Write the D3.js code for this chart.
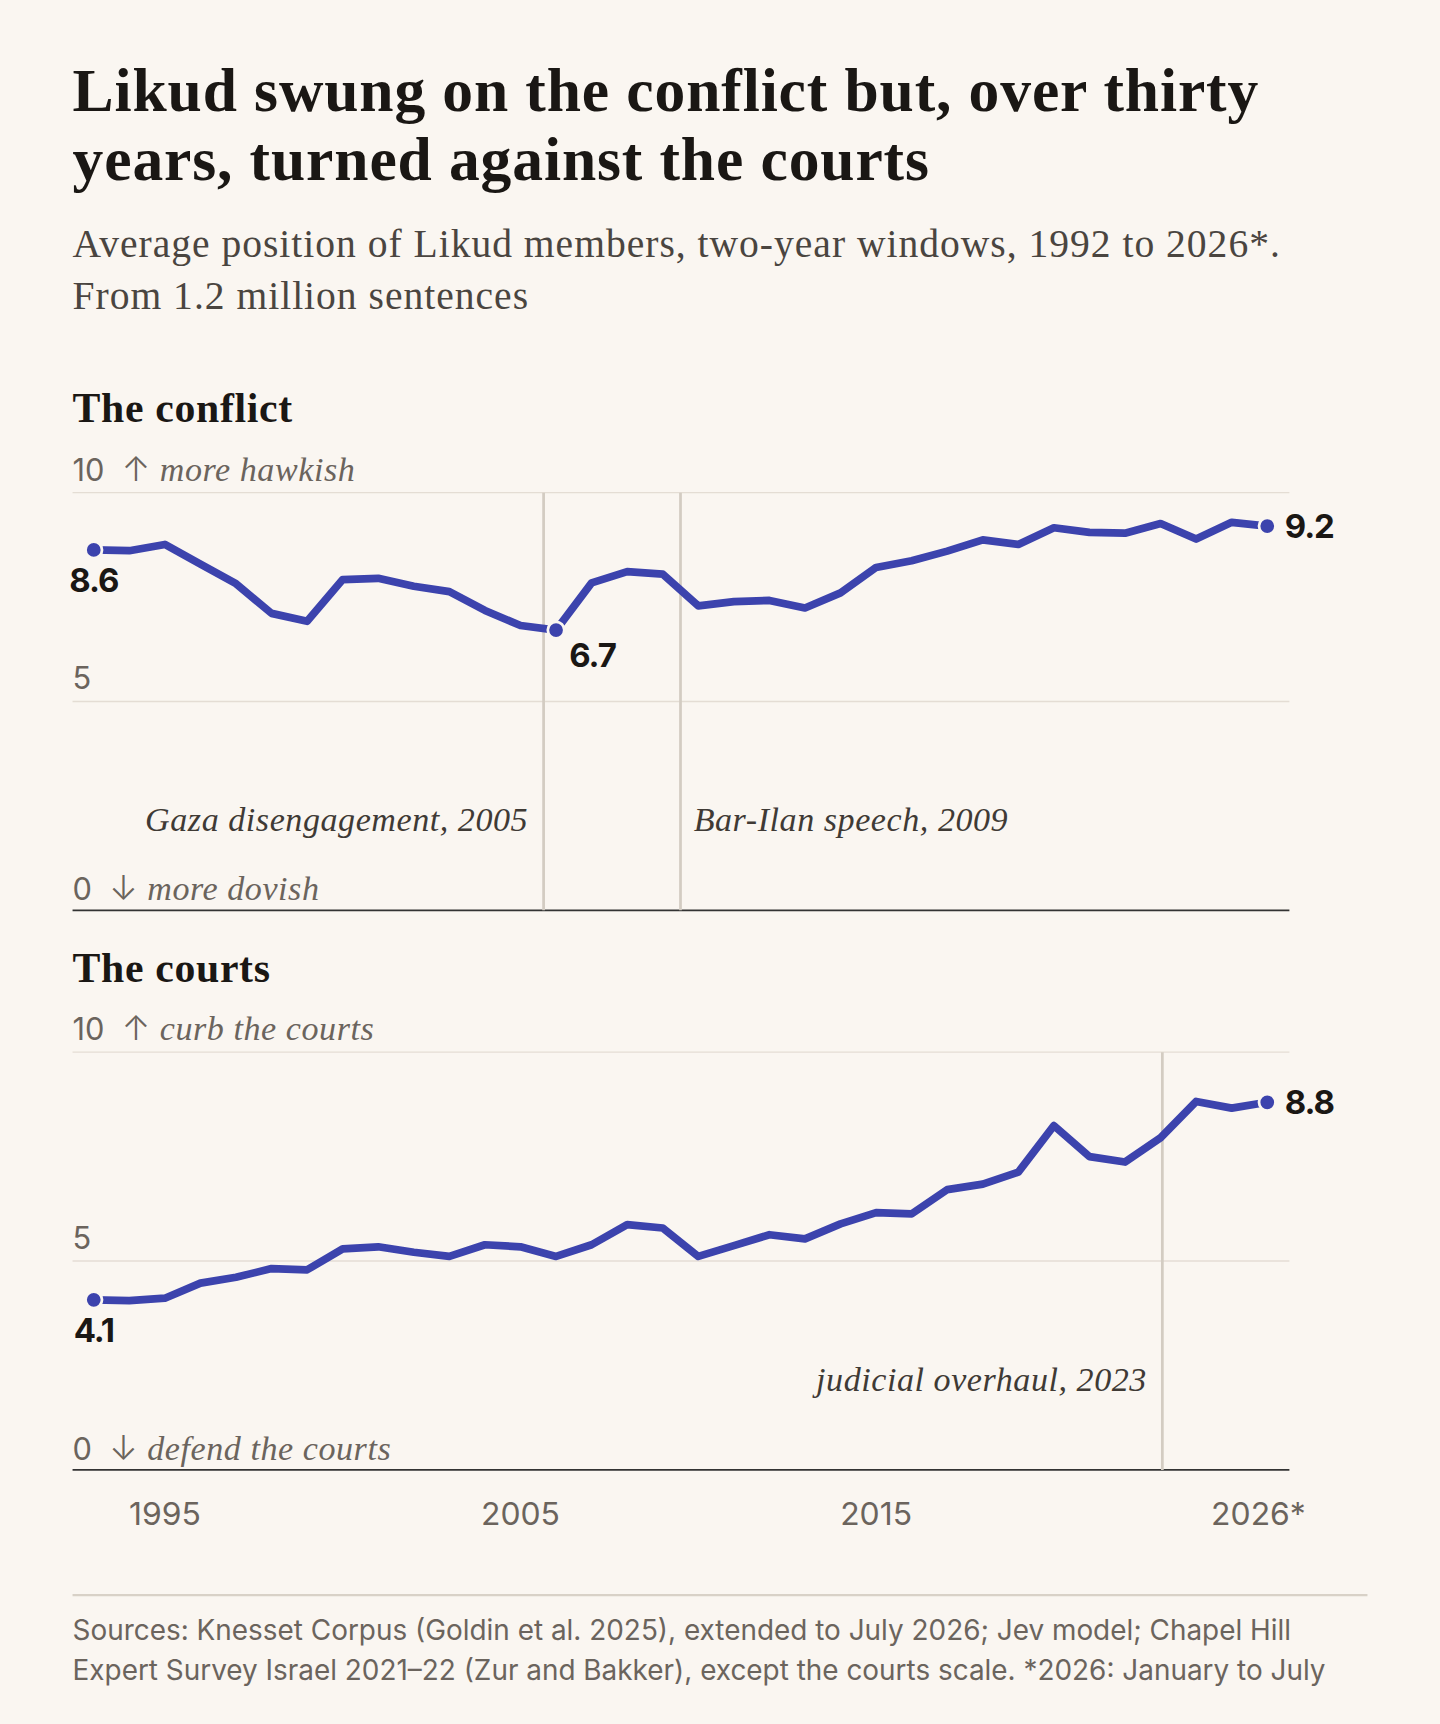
<!DOCTYPE html>
<html><head><meta charset="utf-8">
<script src="https://cdn.jsdelivr.net/npm/d3@7"></script>
<style>body{margin:0;background:#faf6f1}svg{display:block}</style>
</head><body><svg id="c"></svg>
<script>
const years = d3.range(1993, 2027);
const conflict = [8.63,8.61,8.76,8.29,7.82,7.11,6.92,7.92,7.95,7.76,7.63,7.18,6.82,6.71,7.84,8.11,8.05,7.29,7.39,7.42,7.24,7.6,8.21,8.37,8.6,8.87,8.76,9.16,9.05,9.03,9.26,8.89,9.29,9.2];
const courts = [4.07,4.05,4.11,4.47,4.61,4.82,4.79,5.29,5.34,5.21,5.11,5.39,5.34,5.11,5.39,5.87,5.79,5.11,5.37,5.63,5.53,5.89,6.16,6.13,6.71,6.84,7.13,8.24,7.5,7.37,7.95,8.82,8.66,8.8];
const xTicks = [1995, 2005, 2015, 2026];
const xTickLabels = ["1995","2005","2015","2026*"];
const yTicks = [0,5,10];

const W=1310,H=1568;
const svg=d3.select("#c").attr("width",1440).attr("height",1724).attr("viewBox",`0 0 ${W} ${H}`);
svg.append("rect").attr("width",W).attr("height",H).attr("fill","#faf6f1");
const serif="'Liberation Serif','DejaVu Serif',serif", sans="Inter,'Open Sans',sans-serif";
const ink="#1a1714", grey="#6b645d", blue="#3c43ad";

const t=svg.append("text").attr("font-family",serif).attr("font-weight",700).attr("font-size",56).attr("letter-spacing",0.8).attr("fill",ink);
t.append("tspan").attr("x",66).attr("y",101).text("Likud swung on the conflict but, over thirty");
t.append("tspan").attr("x",66).attr("y",164).text("years, turned against the courts");
const s=svg.append("text").attr("font-family",serif).attr("font-size",36).attr("letter-spacing",0.9).attr("fill","#4a4540");
s.append("tspan").attr("x",66).attr("y",234).text("Average position of Likud members, two-year windows, 1992 to 2026*.");
s.append("tspan").attr("x",66).attr("y",281).text("From 1.2 million sentences");

const x=d3.scaleLinear().domain([1995,2015]).range([150,797]);

function panel(top,title,data,upLab,downLab,events,firstLab,lastLab,minIdx){
  const y=d3.scaleLinear().domain([0,10]).range([top+380,top]);
  const g=svg.append("g");
  g.append("text").attr("x",66).attr("y",top-64).attr("font-family",serif).attr("font-weight",700).attr("font-size",38).attr("letter-spacing",0.6).attr("fill",ink).text(title);
  yTicks.forEach(v=>{
    g.append("line").attr("x1",66).attr("x2",1173).attr("y1",y(v)).attr("y2",y(v)).attr("stroke",v===0?"#333":"#e4ddd4").attr("stroke-width",v===0?1.5:1.2);
  });
  events.forEach(e=>{
    g.append("line").attr("x1",x(e.yr)).attr("x2",x(e.yr)).attr("y1",y(10)).attr("y2",y(0)).attr("stroke","#d3ccc2").attr("stroke-width",2.5);
    g.append("text").attr("x",x(e.yr)+(e.anchor==="end"?-14:12)).attr("y",y(0)-72).attr("text-anchor",e.anchor).attr("font-family",serif).attr("font-style","italic").attr("font-size",31).attr("letter-spacing",0.5).attr("fill","#3f3a35").text(e.label);
  });
  const lab=(v,txt,dy)=>{const tt=g.append("text").attr("x",66).attr("y",y(v)+dy).attr("font-family",serif).attr("font-size",31).attr("fill",grey);
    tt.append("tspan").attr("font-family",sans).attr("font-size",28).text(v+"\u00a0\u00a0"); if(txt){tt.append("tspan").attr("font-family",sans).attr("font-weight",300).text(txt[0]+"\u00a0");tt.append("tspan").attr("font-style","italic").attr("letter-spacing",0.5).text(txt.slice(2));}};
  lab(10,"↑ "+upLab,-11); lab(5,null,-11); lab(0,"↓ "+downLab,-9);
  const pts=data.map((v,i)=>[years[i],v]);
  g.append("path").datum(pts).attr("fill","none").attr("stroke",blue).attr("stroke-width",7).attr("stroke-linejoin","round")
    .attr("d",d3.line().x(d=>x(d[0])).y(d=>y(d[1])));
  const dots=[[0,firstLab],[data.length-1,lastLab]]; if(minIdx!=null)dots.push([minIdx,[12,34,"start"]]);
  dots.forEach(([i,o])=>{
    g.append("circle").attr("cx",x(years[i])).attr("cy",y(data[i])).attr("r",7.5).attr("fill",blue).attr("stroke","#faf6f1").attr("stroke-width",2.5);
    g.append("text").attr("x",x(years[i])+o[0]).attr("y",y(data[i])+o[1]).attr("text-anchor",o[2]).attr("font-family",sans).attr("font-weight",700).attr("font-size",30).attr("letter-spacing",-1).attr("fill",ink).text(data[i].toFixed(1));
  });
  return y;
}
panel(448,"The conflict",conflict,"more hawkish","more dovish",
 [{yr:2005.65,label:"Gaza disengagement, 2005",anchor:"end"},{yr:2009.5,label:"Bar-Ilan speech, 2009",anchor:"start"}],[0,38,"middle"],[16,11,"start"],13);
panel(957,"The courts",courts,"curb the courts","defend the courts",
 [{yr:2023.05,label:"judicial overhaul, 2023",anchor:"end"}],[0,38,"middle"],[16,11,"start"],null);

svg.append("g").selectAll("text").data(xTicks).join("text")
 .attr("x",(d,i)=>x(d)+(i===3?-8:0)).attr("y",1387).attr("text-anchor","middle").attr("font-family",sans).attr("font-size",29).attr("fill",grey)
 .text((d,i)=>xTickLabels[i]);

svg.append("line").attr("x1",66).attr("x2",1244).attr("y1",1451).attr("y2",1451).attr("stroke","#d8d1c7").attr("stroke-width",2);
const f=svg.append("text").attr("font-family",sans).attr("font-size",25.4).attr("fill",grey);
f.append("tspan").attr("x",66).attr("y",1492).text("Sources: Knesset Corpus (Goldin et al. 2025), extended to July 2026; Jev model; Chapel Hill");
f.append("tspan").attr("x",66).attr("y",1528).text("Expert Survey Israel 2021–22 (Zur and Bakker), except the courts scale. *2026: January to July");
</script></body></html>
